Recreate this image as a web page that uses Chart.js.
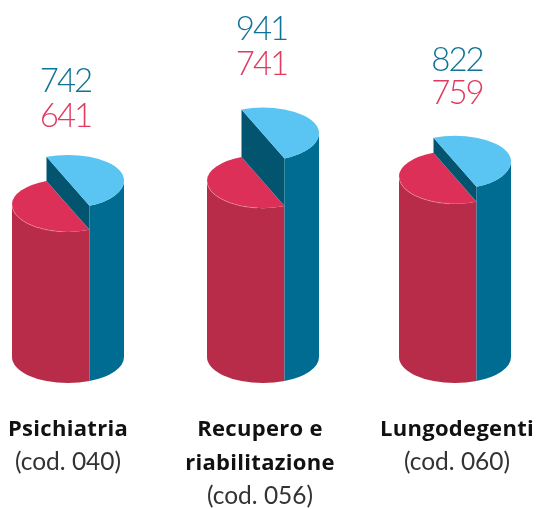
<!DOCTYPE html>
<html>
<head>
<meta charset="utf-8">
<style>
  html, body { margin: 0; padding: 0; background: #fff; }
  canvas { display: block; }
</style>
<script src="https://cdn.jsdelivr.net/npm/chart.js@4"></script>
</head>
<body>
<canvas id="chart" width="541" height="509"></canvas>
<script>
const categories = ["Psichiatria", "Recupero e riabilitazione", "Lungodegenti"];
const boldLines = [["Psichiatria"], ["Recupero e", "riabilitazione"], ["Lungodegenti"]];
const codeLines = ["(cod. 040)", "(cod. 056)", "(cod. 060)"];
const blueValues = [742, 941, 822];
const redValues = [641, 741, 759];

// small per-column shifts, the original columns are not evenly spaced
const cylinderShift = [0, 1.5, 0];
const valueShift = [-2.5, -1.5, 2];
const labelShift = [0, -1.5, 2];
const blueRise = [62.5, 68, 65];
const redRise = [27.5, 33, 32];

const RY_BACK = 25.5;
const RY_FRONT = 27.5;
const RY_BASE = 26;
const CUT = 21.5;
const FONT = "Lato, 'Open Sans', sans-serif";

const cylinders = {
  id: "cylinders",
  afterDatasetsDraw(chart) {
    const ctx = chart.ctx;
    const blueBars = chart.getDatasetMeta(0).data;
    const redBars = chart.getDatasetMeta(1).data;

    blueBars.forEach((bar, i) => {
      const cx = bar.x + cylinderShift[i];
      const rx = bar.width / 2;
      const base = bar.base;
      const blueY = bar.y;
      const redY = redBars[i].y;
      const front = Math.acos(CUT / rx);
      const back = front + Math.PI;
      const fx = cx + CUT;
      const fy = RY_FRONT * Math.sin(front);
      const by = RY_BACK * Math.sin(front);
      const baseFy = RY_BASE * Math.sin(front);

      ctx.save();

      // red side
      ctx.beginPath();
      ctx.ellipse(cx, redY, rx, RY_FRONT, 0, front, Math.PI);
      ctx.lineTo(cx - rx, base);
      ctx.ellipse(cx, base, rx, RY_BASE, 0, Math.PI, front, true);
      ctx.closePath();
      ctx.fillStyle = "#b82c49";
      ctx.fill();

      // red top
      ctx.beginPath();
      ctx.ellipse(cx, redY, rx, RY_FRONT, 0, front, Math.PI);
      ctx.ellipse(cx, redY, rx, RY_BACK, 0, Math.PI, back);
      ctx.closePath();
      ctx.fillStyle = "#dc3058";
      ctx.fill();

      // pale rim on the red top
      ctx.beginPath();
      ctx.ellipse(cx, redY, rx, RY_FRONT, 0, front + 0.5, Math.PI);
      ctx.strokeStyle = "rgba(255,255,255,0.35)";
      ctx.lineWidth = 0.7;
      ctx.stroke();

      // dark wall of the cut
      ctx.beginPath();
      ctx.moveTo(cx - CUT, blueY - by);
      ctx.lineTo(fx, blueY + fy);
      ctx.lineTo(fx, redY + fy);
      ctx.lineTo(cx - CUT, redY - by);
      ctx.closePath();
      ctx.fillStyle = "#02546f";
      ctx.fill();

      // blue side
      ctx.beginPath();
      ctx.ellipse(cx, blueY, rx, RY_FRONT, 0, 0, front);
      ctx.lineTo(fx, base + baseFy);
      ctx.ellipse(cx, base, rx, RY_BASE, 0, front, 0, true);
      ctx.closePath();
      ctx.fillStyle = "#016c91";
      ctx.fill();

      // blue top
      ctx.beginPath();
      ctx.ellipse(cx, blueY, rx, RY_BACK, 0, back, Math.PI * 2);
      ctx.ellipse(cx, blueY, rx, RY_FRONT, 0, 0, front);
      ctx.closePath();
      ctx.fillStyle = "#5ac5f3";
      ctx.fill();

      // values above the cylinder
      ctx.textAlign = "center";
      ctx.textBaseline = "alphabetic";
      ctx.font = "300 33px " + FONT;
      ctx.letterSpacing = "-2px";
      const top = blueY - RY_BACK;
      ctx.fillStyle = "#0f7396";
      ctx.fillText(blueValues[i], cx + valueShift[i], top - blueRise[i]);
      ctx.fillStyle = "#e03a5f";
      ctx.fillText(redValues[i], cx + valueShift[i], top - redRise[i]);

      // category labels
      const lx = bar.x + labelShift[i];
      let ly = 436;
      ctx.fillStyle = "#111";
      ctx.font = "700 22px 'Open Sans', " + FONT;
      ctx.letterSpacing = "0.3px";
      boldLines[i].forEach(line => {
        ctx.fillText(line, lx, ly);
        ly += 34;
      });
      ctx.letterSpacing = "0px";
      ctx.fillStyle = "#333";
      ctx.font = "400 24.5px " + FONT;
      ctx.fillText(codeLines[i], lx, ly);

      ctx.restore();
    });
  }
};

new Chart(document.getElementById("chart"), {
  type: "bar",
  data: {
    labels: categories,
    datasets: [
      { label: "Blue", data: blueValues, backgroundColor: "transparent", barThickness: 112, grouped: false, clip: false },
      { label: "Red", data: redValues, backgroundColor: "transparent", barThickness: 112, grouped: false, clip: false }
    ]
  },
  options: {
    responsive: false,
    animation: false,
    layout: { padding: { left: 68, right: 86, top: 0, bottom: 152 } },
    plugins: { legend: { display: false }, tooltip: { enabled: false } },
    scales: {
      x: { display: false, offset: false },
      y: { display: false, min: 0, max: 1500 }
    }
  },
  plugins: [cylinders]
});
</script>
</body>
</html>
